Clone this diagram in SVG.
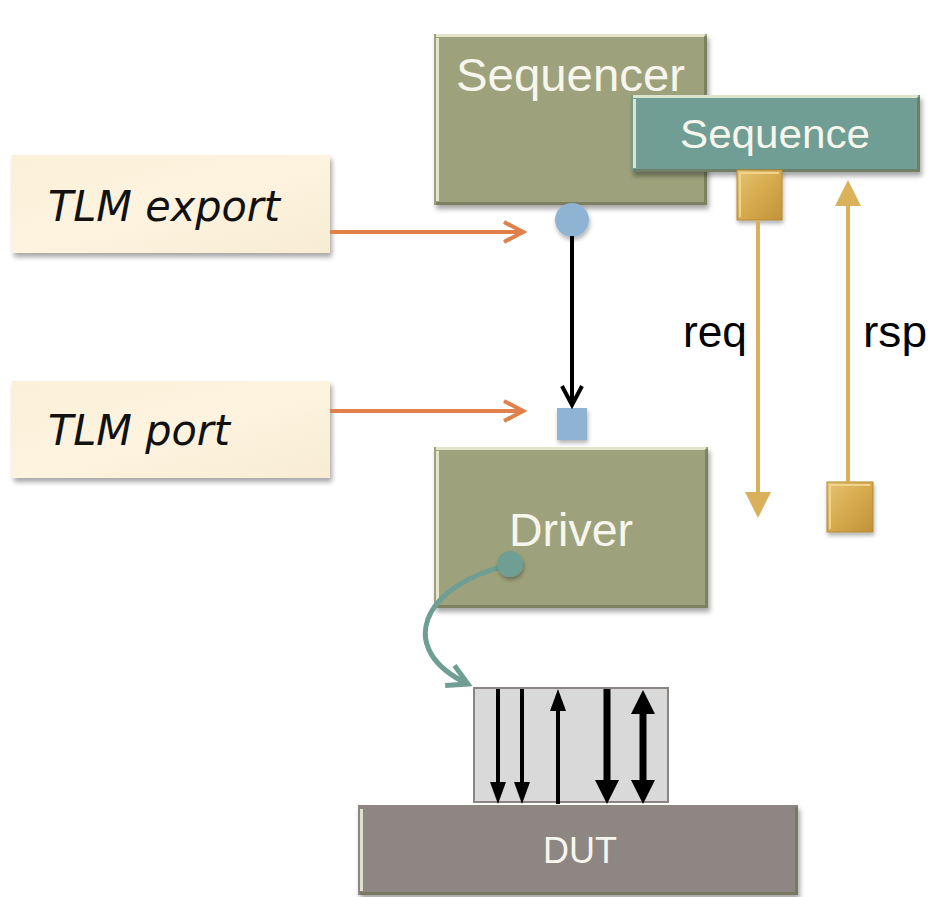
<svg xmlns="http://www.w3.org/2000/svg" width="932" height="897" viewBox="0 0 932 897">
  <defs>
    <style>
      .lbl { font-family: "Liberation Sans", Arial, sans-serif; fill: #f6f6ec; }
      .note { font-family: "Comic Sans MS", "DejaVu Sans", sans-serif; font-style: italic; fill: #111; font-size: 42px; }
      .plain { font-family: "Liberation Sans", Arial, sans-serif; fill: #000; font-size: 45px; }
      .olive { fill: #9ea27b; }
      .teal { fill: #6f9d94; }
      .cream { fill: url(#paper); }
      .hl { stroke: #eef0d8; stroke-width: 3; fill: none; opacity: 0.85; }
      .dk { stroke: #6f7256; stroke-width: 3; fill: none; opacity: 0.7; }
      .orange { stroke: #e0804a; stroke-width: 4; fill: none; marker-end: url(#chevOrange); }
      .gold { stroke: #d8b15a; stroke-width: 4; fill: none; }
      .goldsq { fill: url(#goldGrad); stroke: #b48b35; stroke-width: 1; }
      .sig { stroke: #000; fill: none; }
    </style>
    <filter id="shadow" x="-10%" y="-10%" width="130%" height="140%">
      <feDropShadow dx="2" dy="4" stdDeviation="2.5" flood-color="#000" flood-opacity="0.35"/>
    </filter>
    <filter id="softShadow" x="-20%" y="-20%" width="150%" height="160%">
      <feDropShadow dx="1" dy="3" stdDeviation="2" flood-color="#000" flood-opacity="0.3"/>
    </filter>
    <linearGradient id="paper" x1="0" y1="0" x2="1" y2="1">
      <stop offset="0" stop-color="#fbf0d8"/>
      <stop offset="0.5" stop-color="#fdf3df"/>
      <stop offset="1" stop-color="#f8ecd3"/>
    </linearGradient>
    <linearGradient id="goldGrad" x1="0" y1="0" x2="1" y2="1">
      <stop offset="0" stop-color="#e6c371"/>
      <stop offset="0.5" stop-color="#d6aa4d"/>
      <stop offset="1" stop-color="#c29339"/>
    </linearGradient>
    <!-- open chevron heads -->
    <marker id="chevOrange" markerUnits="userSpaceOnUse" viewBox="-22 -12 26 24" refX="0" refY="0" markerWidth="26" markerHeight="24" orient="auto">
      <path d="M-19,-10 L0,0 L-19,10" fill="none" stroke="#e0804a" stroke-width="4"/>
    </marker>
    <marker id="chevBlack" markerUnits="userSpaceOnUse" viewBox="-22 -12 26 24" refX="0" refY="0" markerWidth="26" markerHeight="24" orient="auto">
      <path d="M-19,-10 L0,0 L-19,10" fill="none" stroke="#000" stroke-width="4"/>
    </marker>
    <marker id="chevTeal" markerUnits="userSpaceOnUse" viewBox="-24 -14 28 28" refX="0" refY="0" markerWidth="28" markerHeight="28" orient="auto">
      <path d="M-20,-11 L0,0 L-20,11" fill="none" stroke="#6e9e94" stroke-width="5"/>
    </marker>
    <!-- filled heads -->
    <marker id="goldHead" markerUnits="userSpaceOnUse" viewBox="0 -13 26 26" refX="0" refY="0" markerWidth="26" markerHeight="26" orient="auto">
      <path d="M0,-13 L26,0 L0,13 z" fill="#d8b15a"/>
    </marker>
    <marker id="thinHead" markerUnits="userSpaceOnUse" viewBox="0 -8 22 16" refX="0" refY="0" markerWidth="22" markerHeight="16" orient="auto-start-reverse">
      <path d="M0,-8 L22,0 L0,8 z" fill="#000"/>
    </marker>
    <marker id="thickHead" markerUnits="userSpaceOnUse" viewBox="0 -12 24 24" refX="0" refY="0" markerWidth="24" markerHeight="24" orient="auto-start-reverse">
      <path d="M0,-12 L24,0 L0,12 z" fill="#000"/>
    </marker>
  </defs>

  <rect width="932" height="897" fill="#fff"/>

  <!-- note boxes -->
  <g id="note-export">
    <rect x="12" y="155" width="318" height="98" class="cream" filter="url(#shadow)"/>
    <text x="48" y="221" class="note" textLength="232" lengthAdjust="spacingAndGlyphs">TLM export</text>
  </g>
  <g id="note-port">
    <rect x="12" y="381" width="318" height="97" class="cream" filter="url(#shadow)"/>
    <text x="48" y="445" class="note" textLength="182" lengthAdjust="spacingAndGlyphs">TLM port</text>
  </g>

  <!-- sequencer -->
  <g id="sequencer">
    <rect x="434" y="34" width="273" height="171" class="olive" filter="url(#shadow)"/>
    <path d="M437.5,38 V201" class="hl"/>
    <path d="M436,35.5 H705" class="hl" stroke-width="1.5"/>
    <path d="M436,203.5 H705.5 V36" class="dk"/>
    <text x="456" y="91" class="lbl" font-size="46" textLength="229" lengthAdjust="spacingAndGlyphs">Sequencer</text>
  </g>

  <!-- sequence -->
  <g id="sequence">
    <rect x="631" y="95" width="289" height="77" class="teal" filter="url(#shadow)"/>
    <path d="M634.5,99 V168" class="hl" stroke="#e4f1ec"/>
    <path d="M633,96.5 H918" class="hl" stroke="#e4f1ec" stroke-width="1.5"/>
    <path d="M633,170.5 H918.5 V97" class="dk" stroke="#4e766e"/>
    <text x="680" y="148" class="lbl" font-size="40" textLength="190" lengthAdjust="spacingAndGlyphs">Sequence</text>
  </g>

  <!-- driver -->
  <g id="driver">
    <rect x="434" y="447" width="274" height="161" class="olive" filter="url(#shadow)"/>
    <path d="M437.5,451 V604" class="hl"/>
    <path d="M436,448.5 H706" class="hl" stroke-width="1.5"/>
    <path d="M436,606.5 H706.5 V449" class="dk"/>
    <text x="509" y="546" class="lbl" font-size="46" textLength="124" lengthAdjust="spacingAndGlyphs">Driver</text>
  </g>

  <!-- DUT -->
  <g id="dut">
    <rect x="358" y="805" width="440" height="90" fill="#8d8683" filter="url(#shadow)"/>
    <path d="M361.5,809 V891" class="hl" stroke="#f2eeee"/>
    <path d="M360,893.5 H796.5 V807" class="dk" stroke="#6a6361"/>
    <text x="543" y="863" class="lbl" font-size="36" textLength="74" lengthAdjust="spacingAndGlyphs">DUT</text>
  </g>

  <!-- pin interface -->
  <g id="interface">
    <rect x="474" y="688" width="194" height="114" fill="#d9d9d9" stroke="#8b8583" stroke-width="2"/>
  </g>

  <!-- ports -->
  <g id="export-port">
    <circle cx="572" cy="220" r="17" fill="#8fb3d3" filter="url(#softShadow)"/>
  </g>
  <g id="driver-port">
    <rect x="557" y="408" width="30" height="32" fill="#8fb3d3" filter="url(#softShadow)"/>
  </g>
  <g id="req-port">
    <rect x="737" y="170" width="45" height="50" class="goldsq" filter="url(#softShadow)"/>
    <path d="M740,217 V173 H779" stroke="#f0d48e" stroke-width="2" fill="none"/>
  </g>
  <g id="rsp-port">
    <rect x="827" y="482" width="46" height="50" class="goldsq" filter="url(#softShadow)"/>
    <path d="M830,529 V485 H870" stroke="#f0d48e" stroke-width="2" fill="none"/>
  </g>

  <!-- labels -->
  <text x="683" y="347" class="plain" textLength="64" lengthAdjust="spacingAndGlyphs">req</text>
  <text x="863" y="347" class="plain" textLength="64" lengthAdjust="spacingAndGlyphs">rsp</text>

  <!-- connectors -->
  <g id="connectors">
    <path d="M330,232 H523" class="orange"/>
    <path d="M330,411 H523" class="orange"/>
    <path d="M572,236 V405" stroke="#000" stroke-width="4" fill="none" marker-end="url(#chevBlack)"/>
    <path d="M758,220 V492" class="gold" marker-end="url(#goldHead)"/>
    <path d="M848,482 V206" class="gold" marker-end="url(#goldHead)"/>
    <path d="M510,565 C420,585 395,650 468,684" stroke="#6e9e94" stroke-width="5" fill="none" marker-end="url(#chevTeal)"/>
    <circle cx="510" cy="564" r="13" fill="#6e9e94" filter="url(#softShadow)"/>
    <!-- signal pins -->
    <path d="M498,689 V782" class="sig" stroke-width="4" marker-end="url(#thinHead)"/>
    <path d="M522,689 V782" class="sig" stroke-width="4" marker-end="url(#thinHead)"/>
    <path d="M558,804 V711" class="sig" stroke-width="4" marker-end="url(#thinHead)"/>
    <path d="M607,689 V780" class="sig" stroke-width="7" marker-end="url(#thickHead)"/>
    <path d="M643,714 V780" class="sig" stroke-width="7" marker-start="url(#thickHead)" marker-end="url(#thickHead)"/>
  </g>
</svg>
